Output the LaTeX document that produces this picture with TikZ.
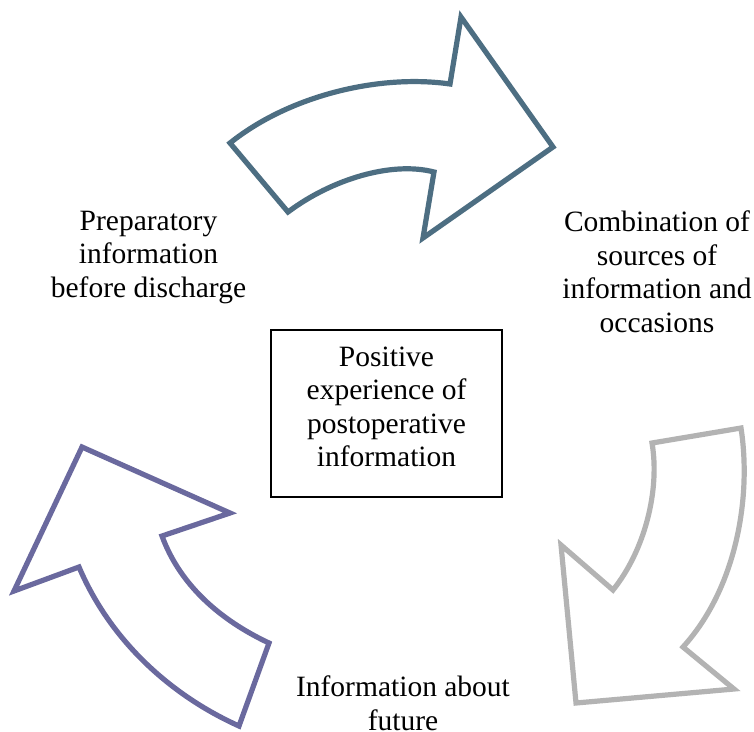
\documentclass[tikz,border=0pt]{standalone}
\usepackage{fontspec}
\setmainfont{Liberation Serif}
\definecolor{toparrow}{HTML}{4D6E82}
\definecolor{rightarrow}{HTML}{B3B3B3}
\definecolor{leftarrow}{HTML}{6A699E}
\begin{document}
\begin{tikzpicture}[x=1pt,y=-1pt,
  arrowshape/.style={line width=5.2pt, line join=miter, miter limit=10, fill=white},
  lbl/.style={align=center, inner sep=0pt, anchor=base, font=\fontsize{29.5}{33.5}\selectfont},
  centerbox/.style={draw=black, line width=1.5pt, minimum width=231pt, minimum height=167pt, inner sep=0pt},
]
\useasboundingbox (0,0) rectangle (754,731);

% top arrow
\draw[arrowshape, draw=toparrow]
  (230,143) -- (288,212)
  .. controls (332,179) and (392,161) .. (434,172)
  -- (423,238) -- (553,147) -- (461,17) -- (450,84)
  .. controls (380,74) and (290,95) .. (230,143) -- cycle;

% right arrow
\draw[arrowshape, draw=rightarrow]
  (652,443) -- (741,428)
  .. controls (752,500) and (735,590) .. (683,647)
  -- (734,689) -- (576,703) -- (561,545) -- (613,590)
  .. controls (645,550) and (660,490) .. (652,443) -- cycle;

% left arrow
\draw[arrowshape, draw=leftarrow]
  (269,643) -- (239,726)
  .. controls (170,695) and (110,640) .. (79,567)
  -- (14,591) -- (82,447) -- (230,513) -- (162,536)
  .. controls (180,585) and (220,620) .. (269,643) -- cycle;

\node[centerbox] (center) at (386.5,413.5) {};
\node[lbl] (centertext) at (386.5,466.7) {Positive\\experience of\\postoperative\\information};

\node[lbl] (prep) at (148.5,297) {Preparatory\\information\\before discharge};
\node[lbl] (comb) at (657,332) {Combination of\\sources of\\information and\\occasions};
\node[lbl] (future) at (403,730) {Information about\\future};
\end{tikzpicture}
\end{document}
